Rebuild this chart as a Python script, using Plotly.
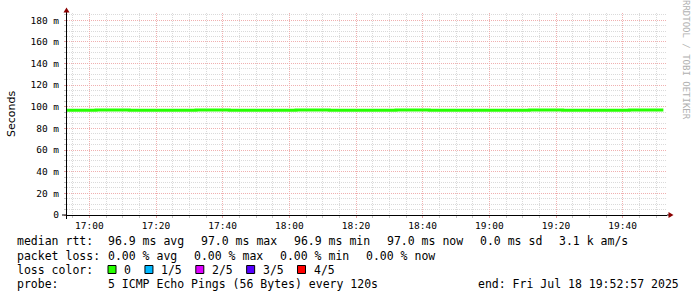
import plotly.graph_objects as go

# ---------------- data ----------------
times = ["2025-07-18 16:52:00", "2025-07-18 17:02:00", "2025-07-18 17:12:00",
         "2025-07-18 17:22:00", "2025-07-18 17:32:00", "2025-07-18 17:42:00",
         "2025-07-18 17:52:00", "2025-07-18 18:02:00", "2025-07-18 18:12:00",
         "2025-07-18 18:22:00", "2025-07-18 18:32:00", "2025-07-18 18:42:00",
         "2025-07-18 18:52:00", "2025-07-18 19:02:00", "2025-07-18 19:12:00",
         "2025-07-18 19:22:00", "2025-07-18 19:32:00", "2025-07-18 19:42:00",
         "2025-07-18 19:52:13"]
median_ms = [96.9, 97.0, 96.9, 96.9, 97.0, 96.9, 96.9, 97.0, 96.9, 96.9,
             97.0, 96.9, 96.9, 96.9, 97.0, 96.9, 96.9, 97.0, 97.0]

y_tickvals = [0, 20, 40, 60, 80, 100, 120, 140, 160, 180]
y_ticktext = ["0", "20 m", "40 m", "60 m", "80 m", "100 m", "120 m", "140 m", "160 m", "180 m"]

rtt_items = ["96.9 ms avg", "97.0 ms max", "96.9 ms min", "97.0 ms now", "0.0 ms sd", "3.1 k am/s"]
loss_items = ["0.00 % avg", "0.00 % max", "0.00 % min", "0.00 % now"]
loss_labels = ["0", "1/5", "2/5", "3/5", "4/5"]
loss_colors = ["#26ff00", "#00b8ff", "#dd00ff", "#5500ff", "#ff0000"]
probe_text = "5 ICMP Echo Pings (56 Bytes) every 120s"
end_text = "end: Fri Jul 18 19:52:57 2025"
x_range = ["2025-07-18 16:53:18", "2025-07-18 19:53:18"]
y_range = [0, 186.7]

# ---------------- layout geometry ----------------
W, H = 697, 297
L, R, T, B = 67, 30, 13, 82
PW = W - L - R
PH = H - T - B
MONO = "DejaVu Sans Mono"
CW = 6.95      # legend char width (px)
GAP = 16.5     # gap between legend items (px)


def px(xp):
    return (xp - L) / PW


def py(yp):
    return (T + PH - yp) / PH


fig = go.Figure()
fig.add_trace(go.Scatter(x=times, y=median_ms, mode="lines",
                         line=dict(color="#26ff00", width=3, shape="hv"),
                         hoverinfo="skip", showlegend=False))

minor_grid = "#dadada"
major_grid = "#f0b0b0"

fig.update_xaxes(
    type="date", range=x_range, tickformat="%H:%M",
    tick0="2025-07-18 17:00:00", dtick=20 * 60 * 1000,
    showgrid=True, gridcolor=major_grid, griddash="1px,1px", gridwidth=1,
    minor=dict(dtick=5 * 60 * 1000, tick0="2025-07-18 17:00:00", showgrid=True,
               gridcolor=minor_grid, griddash="1px,1px", ticks="outside",
               ticklen=2, tickcolor="#c4c4c4"),
    ticks="outside", ticklen=2, tickcolor="#e0a0a0",
    showline=True, linecolor="#000000", linewidth=1, zeroline=False,
    tickfont=dict(family=MONO, size=9.5, color="#000000"),
)
fig.update_yaxes(
    range=y_range, tickvals=y_tickvals, ticktext=y_ticktext,
    showgrid=True, gridcolor=major_grid, griddash="1px,1px", gridwidth=1,
    minor=dict(dtick=5, tick0=0, showgrid=True, gridcolor=minor_grid,
               griddash="1px,1px", ticks="outside", ticklen=2, tickcolor="#c4c4c4"),
    ticks="outside", ticklen=2, tickcolor="#e0a0a0", ticklabelstandoff=3,
    showline=True, linecolor="#000000", linewidth=1, zeroline=False,
    tickfont=dict(family=MONO, size=9.5, color="#000000"),
)

annotations = []
shapes = []


def text(t, x, y, anchor="left", size=11.5, color="#000000", family=MONO, angle=0):
    annotations.append(dict(text=t, xref="paper", yref="paper", x=px(x), y=py(y),
                            xanchor=anchor, yanchor="middle", showarrow=False,
                            borderpad=0, textangle=angle,
                            font=dict(family=family, size=size, color=color)))


# y title & watermark
text("Seconds", 11, 114, anchor="center", size=11, family="DejaVu Sans", angle=-90)
text("RRDTOOL / TOBI OETIKER", 686, 60, anchor="center", size=9, color="#b0b0b0", angle=90)

# legend lines
LY = [241, 255.5, 269.5, 283.5]
text("median rtt:", 16, LY[0])
x = 107
for it in rtt_items:
    text(it, x, LY[0])
    x += len(it) * CW + GAP

text("packet loss:", 16, LY[1])
x = 107
for it in loss_items:
    text(it, x, LY[1])
    x += len(it) * CW + GAP

text("loss color:", 16, LY[2])
x = 108
for lab, col in zip(loss_labels, loss_colors):
    shapes.append(dict(type="rect", xref="paper", yref="paper",
                       x0=px(x), x1=px(x + 8), y0=py(LY[2] + 4), y1=py(LY[2] - 4),
                       fillcolor=col, line=dict(color="#000000", width=1)))
    text(lab, x + 15, LY[2])
    x += 15 + len(lab) * CW + 15

text("probe:", 16, LY[3])
text(probe_text, 107, LY[3])
text(end_text, 680, LY[3], anchor="right")

# axis extensions and arrows
AX = "#000000"
shapes.append(dict(type="line", xref="paper", yref="paper", x0=px(62), x1=px(L),
                   y0=py(215), y1=py(215), line=dict(color=AX, width=1)))
shapes.append(dict(type="line", xref="paper", yref="paper", x0=px(L + PW), x1=px(669),
                   y0=py(215), y1=py(215), line=dict(color=AX, width=1)))
shapes.append(dict(type="line", xref="paper", yref="paper", x0=px(66.5), x1=px(66.5),
                   y0=py(215), y1=py(219), line=dict(color=AX, width=1)))
shapes.append(dict(type="line", xref="paper", yref="paper", x0=px(66.5), x1=px(66.5),
                   y0=py(T), y1=py(11), line=dict(color=AX, width=1)))
ARW = "#8b0000"
shapes.append(dict(type="path", xref="paper", yref="paper",
                   path=f"M {px(63.5)},{py(12.5)} L {px(69.5)},{py(12.5)} L {px(66.5)},{py(7.5)} Z",
                   fillcolor=ARW, line=dict(color=ARW, width=0)))
shapes.append(dict(type="path", xref="paper", yref="paper",
                   path=f"M {px(668.5)},{py(212)} L {px(668.5)},{py(218)} L {px(673.5)},{py(215)} Z",
                   fillcolor=ARW, line=dict(color=ARW, width=0)))

fig.update_layout(
    width=W, height=H, autosize=False,
    margin=dict(l=L, r=R, t=T, b=B, pad=0),
    paper_bgcolor="#ffffff", plot_bgcolor="#ffffff",
    showlegend=False,
    annotations=annotations, shapes=shapes,
)

fig.write_html("out.html")
